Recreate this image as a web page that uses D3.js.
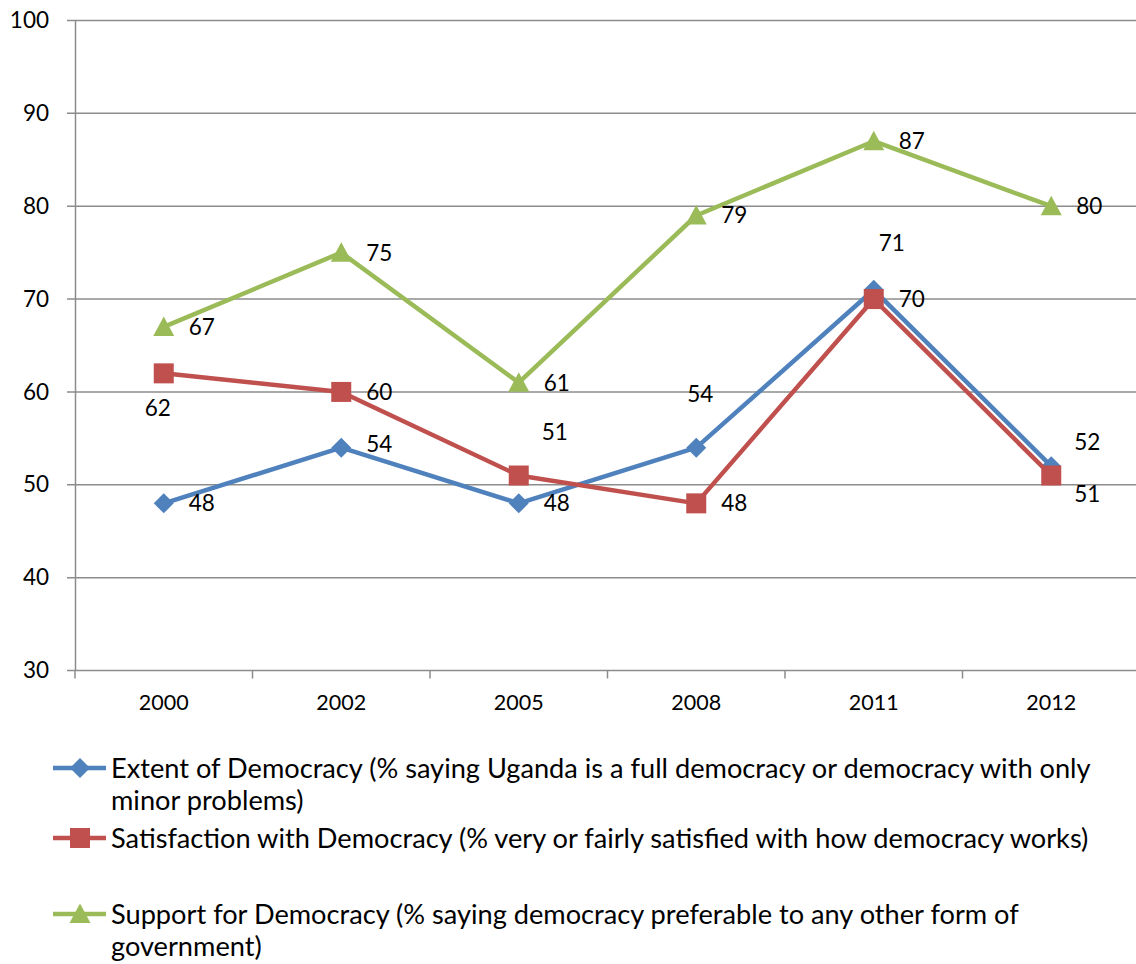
<!DOCTYPE html>
<html><head><meta charset="utf-8">
<script src="https://cdn.jsdelivr.net/npm/d3@7"></script>
<style>body{margin:0;background:#fff}svg{display:block}text{font-family:Lato,"Open Sans",sans-serif;fill:#000}</style>
</head><body><svg id="c" width="1136" height="964"></svg>
<script>
const years = ["2000","2002","2005","2008","2011","2012"];
const extent = [48,54,48,54,71,52];
const satisfaction = [62,60,51,48,70,51];
const support = [67,75,61,79,87,80];
const yTicks = [30,40,50,60,70,80,90,100];
const seriesNames = [
  ["Extent of Democracy (% saying Uganda is a full democracy or democracy with only","minor problems)"],
  ["Satisfaction with Democracy (% very or fairly satisfied with how democracy works)"],
  ["Support for Democracy (% saying democracy preferable to any other form of","government)"]
];
// label centre offsets from each marker (dx, dy)
const extentLabelPos = [[38,0],[38,-4],[38,0],[4,-54],[18,-47],[36,-24]];
const satLabelPos = [[-6,35],[38,0],[36,-43],[38,0],[38,0],[36,19]];
const supLabelPos = [[38,0],[38,0],[38,0],[38,0],[38,0],[38,0]];

const svg = d3.select("#c");
const L=75, R=1140, T=20.5, B=670.5;
const x = d3.scaleBand().domain(years).range([L,R]);
const y = d3.scaleLinear().domain([30,100]).range([B,T]);

const grid = svg.append("g");
yTicks.forEach(t=>{
  grid.append("line").attr("x1",67).attr("x2",1136).attr("y1",y(t)).attr("y2",y(t))
    .attr("stroke","#8c8c8c").attr("stroke-width",1.5);
});
const yAxis = d3.axisLeft(y).tickValues(yTicks).tickSize(0).tickPadding(26);
const ga = svg.append("g").attr("transform",`translate(${L},0)`).call(yAxis);
ga.select(".domain").attr("stroke","#8c8c8c").attr("stroke-width",1.5);
ga.selectAll("text").style("font-size","22.5px").style("font-family","Lato, sans-serif").attr("fill","#000");

const xAxis = d3.axisBottom(x).tickSize(0).tickPadding(24);
const gx = svg.append("g").attr("transform",`translate(0,${B})`).call(xAxis);
gx.select(".domain").remove();
gx.selectAll("text").style("font-size","21.5px").style("font-family","Lato, sans-serif").attr("fill","#000");
const bounds = years.map(d=>x(d)).concat([R]);
bounds.forEach(bx=>{
  svg.append("line").attr("x1",bx).attr("x2",bx).attr("y1",B).attr("y2",B+8)
    .attr("stroke","#8c8c8c").attr("stroke-width",1.5);
});

const cx = d=>x(d)+x.bandwidth()/2;
const series = [
  {vals:extent,color:"#4F81BD",marker:"diamond",lab:extentLabelPos},
  {vals:satisfaction,color:"#C0504D",marker:"square",lab:satLabelPos},
  {vals:support,color:"#9BBB59",marker:"triangle",lab:supLabelPos}
];
function marker(g,type,color,px,py){
  if(type==="diamond"){
    g.append("path").attr("d",`M${px},${py-10}L${px+10},${py}L${px},${py+10}L${px-10},${py}Z`).attr("fill",color);
  } else if(type==="square"){
    g.append("rect").attr("x",px-10).attr("y",py-10).attr("width",20).attr("height",20).attr("fill",color);
  } else {
    g.append("path").attr("d",`M${px},${py-10.5}L${px+10.5},${py+9}L${px-10.5},${py+9}Z`).attr("fill",color);
  }
}
const line = d3.line().x((d,i)=>cx(years[i])).y(d=>y(d));
series.forEach(s=>{
  const g = svg.append("g");
  g.append("path").datum(s.vals).attr("d",line).attr("fill","none").attr("stroke",s.color).attr("stroke-width",4.5).attr("stroke-linejoin","round");
  s.vals.forEach((v,i)=>marker(g,s.marker,s.color,cx(years[i]),y(v)));
});
series.forEach(s=>{
  s.vals.forEach((v,i)=>{
    const [dx,dy]=s.lab[i];
    svg.append("text").attr("x",cx(years[i])+dx).attr("y",y(v)+dy).attr("dy","0.35em")
      .attr("text-anchor","middle").style("font-size","22.5px").text(v);
  });
});

const legY = [768, 838, 914];
series.forEach((s,i)=>{
  const g = svg.append("g");
  g.append("line").attr("x1",53).attr("x2",106).attr("y1",legY[i]).attr("y2",legY[i]).attr("stroke",s.color).attr("stroke-width",4.5);
  marker(g,s.marker,s.color,80,legY[i]);
  seriesNames[i].forEach((t,j)=>{
    g.append("text").attr("x",111).attr("y",legY[i]+j*32).attr("dy","0.35em").style("font-size","27.2px").text(t);
  });
});
</script></body></html>
